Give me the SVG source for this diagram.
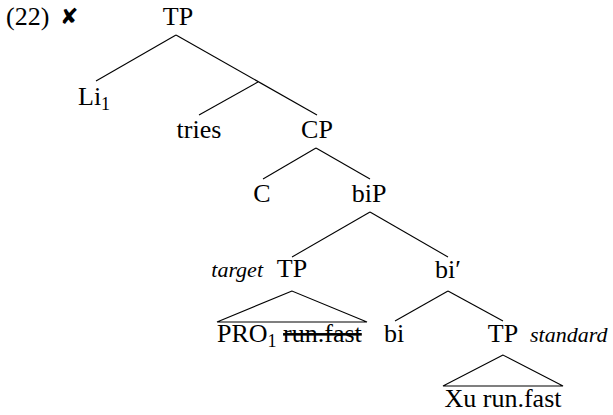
<svg xmlns="http://www.w3.org/2000/svg" width="613" height="415" viewBox="0 0 613 415">
<style>
.t{font-family:"Liberation Serif","Times New Roman",serif;font-size:26px;fill:#000}
.m{text-anchor:middle}
.i{font-family:"Liberation Serif","Times New Roman",serif;font-style:italic;font-size:22px;fill:#000}
.s{font-size:18px}
.e{stroke:#000;stroke-width:1.1;fill:none}
</style>
<rect width="613" height="415" fill="#fff"/>
<g id="label">
<text class="t" x="6" y="25">(22)</text>
<text x="60" y="24" style="font-family:'DejaVu Sans',sans-serif;font-size:22px;font-weight:bold">✘</text>
</g>
<g id="connectors">
<line class="e" x1="176" y1="35" x2="96" y2="81"/>
<line class="e" x1="176" y1="35" x2="317" y2="115"/>
<line class="e" x1="258" y1="82" x2="199" y2="115"/>
<line class="e" x1="316" y1="148" x2="263" y2="179"/>
<line class="e" x1="316" y1="148" x2="370" y2="179"/>
<line class="e" x1="370" y1="212" x2="292" y2="257"/>
<line class="e" x1="370" y1="212" x2="448" y2="257"/>
<polygon class="e" points="292,291 217,322 367,322"/>
<line class="e" x1="448" y1="291" x2="395" y2="321"/>
<line class="e" x1="448" y1="291" x2="503" y2="321"/>
<polygon class="e" points="503,355 443,386 563,386"/>
</g>
<g id="n-tp"><text class="t m" x="178" y="25">TP</text></g>
<g id="n-li"><text class="t" x="78" y="105">Li<tspan class="s" dy="5">1</tspan></text></g>
<g id="n-tries"><text class="t m" x="199" y="138">tries</text></g>
<g id="n-cp"><text class="t m" x="317" y="138">CP</text></g>
<g id="n-c"><text class="t m" x="262" y="202">C</text></g>
<g id="n-bip"><text class="t m" x="369" y="202">biP</text></g>
<g id="n-tp-target"><text class="i" x="263" y="277" text-anchor="end">target</text><text class="t m" x="292" y="277">TP</text></g>
<g id="n-bibar"><text class="t m" x="448" y="278">bi′</text></g>
<g id="n-pro"><text class="t" x="217" y="342">PRO<tspan class="s" dy="5">1</tspan><tspan dy="-5"> </tspan><tspan text-decoration="line-through">run.fast</tspan></text></g>
<g id="n-bi"><text class="t m" x="394" y="342">bi</text></g>
<g id="n-tp-standard"><text class="t m" x="503" y="342">TP</text><text class="i" x="530" y="342">standard</text></g>
<g id="n-xu"><text class="t m" x="503" y="407">Xu run.fast</text></g>
</svg>
